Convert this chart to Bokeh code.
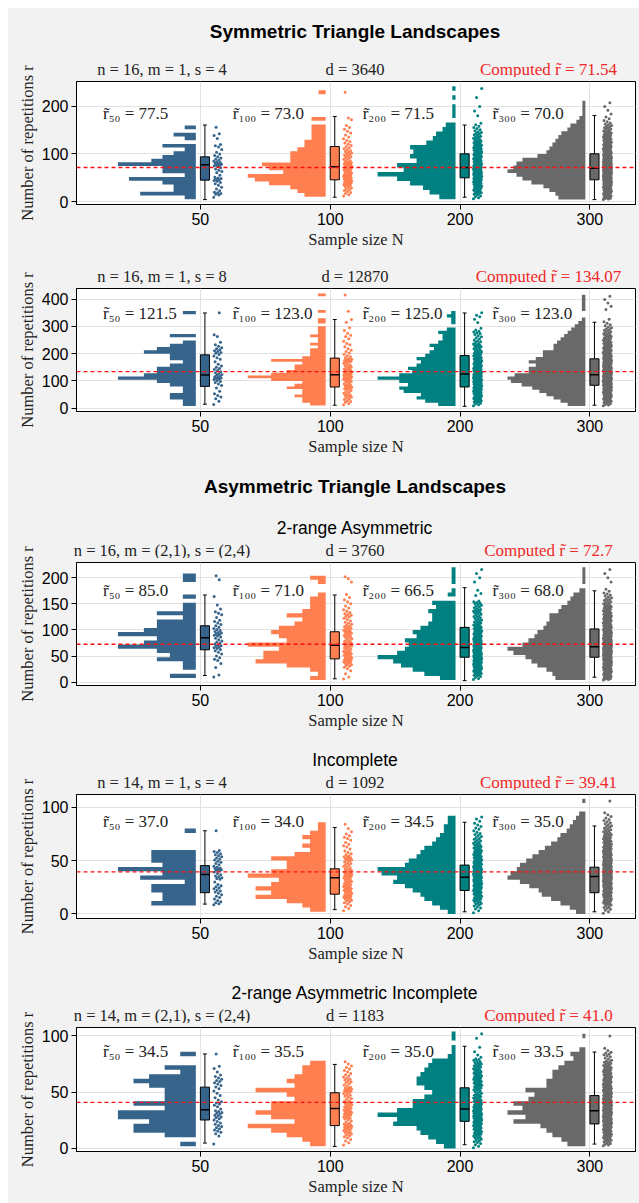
import math
from bokeh.plotting import figure
from bokeh.models import Range1d, FixedTicker, Span, Label, Spacer
from bokeh.layouts import column, row
from bokeh.embed import file_html
from bokeh.resources import INLINE

# ---------------- data ----------------
SAMPLE_SIZES = [50, 100, 200, 300]
COLORS = ["#36648B", "#FF7F50", "#008080", "#696969"]
SECTION_TITLES = ["Symmetric Triangle Landscapes", None, "Asymmetric Triangle Landscapes", None, None]
SUBTITLES = [None, None, "2-range Asymmetric", "Incomplete", "2-range Asymmetric Incomplete"]
PARAMS = ["n = 16, m = 1, s = 4", "n = 16, m = 1, s = 8", "n = 16, m = (2,1), s = (2,4)",
          "n = 14, m = 1, s = 4", "n = 14, m = (2,1), s = (2,4)"]
D_VALUES = [3640, 12870, 3760, 1092, 1183]
COMPUTED = [71.54, 134.07, 72.7, 39.41, 41.0]

MEDIANS = [[77.5, 73.0, 71.5, 70.0], [121.5, 123.0, 125.0, 123.0], [85.0, 71.0, 66.5, 68.0],
           [37.0, 34.0, 34.5, 35.0], [34.5, 35.5, 35.0, 33.5]]
Q1 = [[45, 45.6, 49.9, 45.7], [80, 77.8, 77.8, 84], [62, 44.7, 47.8, 47.8],
      [19.9, 18.5, 22, 19.9], [25.3, 20.3, 24.1, 21.8]]
Q3 = [[94, 115.7, 100.4, 100.4], [195.6, 183.6, 193, 181], [108, 96.6, 105, 102],
      [45.3, 42.3, 45.8, 43.8], [54.5, 49.5, 53.9, 47]]
WHISK_LO = [[4, 9, 9, 4], [14.6, 11, 7, 11], [12.8, 6.5, 3, 9.6], [9.2, 4, 2, 2], [4.8, 1.8, 3.3, 3.9]]
WHISK_HI = [[161, 179, 161, 181], [349, 325, 349, 315], [167, 167, 181, 175],
            [78, 81, 86, 82.5], [84, 74.7, 90.8, 85.7]]

# histogram bins: start, width, counts (bottom -> top) per panel and sample size
HIST_START = [[5, 10, 5, 4], [8, 10, 8, 8], [8, 4, 4, 4], [8, 2, 0, 0], [2, 2, 0, 2]]
HIST_WIDTH = [[7.75, 8, 9.5, 8], [12, 10, 12, 12], [8, 8, 8, 8], [4, 4, 4, 4], [4, 4, 4, 4]]

P1_COUNTS_50 = [1, 5, 2, 2, 3, 6, 1, 3, 3, 7, 4, 3, 2, 1, 3, 0, 1, 2, 0, 1]
P1_COUNTS_100 = [3, 4, 5, 8, 10, 11, 6, 8, 9, 5, 5, 5, 4, 3, 3, 2, 2, 2, 2, 0, 2, 0, 0, 0, 0, 0, 0, 1]
P1_COUNTS_200 = [5, 8, 10, 14, 18, 24, 16, 18, 12, 14, 13, 14, 9, 7, 6, 4, 3, 0, 1, 1, 1, 0, 1, 0, 1]
P1_COUNTS_300 = [9, 10, 12, 14, 18, 21, 23, 26, 24, 23, 21, 16, 13, 12, 11, 10, 9, 8, 6, 5, 3, 2, 1, 1, 1, 1]

P2_COUNTS_50 = [1, 1, 2, 2, 1, 1, 2, 3, 6, 4, 3, 3, 2, 1, 2, 2, 4, 3, 2, 1, 0, 2, 0, 0, 0, 0, 0, 0, 1]
P2_COUNTS_100 = [2, 3, 3, 4, 3, 3, 5, 4, 3, 7, 10, 7, 5, 4, 4, 3, 7, 3, 2, 2, 2, 1, 2, 1, 1, 2, 1, 1, 1, 0,
                 1, 1, 0, 0, 1, 0, 0, 0, 0, 0, 1]
P2_COUNTS_200 = [4, 7, 9, 8, 12, 13, 11, 13, 18, 13, 10, 11, 9, 8, 9, 7, 6, 5, 6, 4, 3, 3, 4, 2, 0, 1, 1, 2, 1]
P2_COUNTS_300 = [5, 7, 9, 11, 13, 15, 18, 21, 22, 20, 16, 16, 14, 16, 14, 12, 12, 9, 9, 8, 7, 6, 5, 4, 3, 2,
                 1, 0, 0, 1, 1, 1, 1, 1]

P3_COUNTS_50 = [2, 0, 1, 1, 3, 2, 3, 6, 4, 3, 6, 4, 3, 3, 1, 3, 1, 1, 0, 1, 0, 0, 0, 1, 1]
P3_COUNTS_100 = [2, 1, 2, 5, 9, 8, 8, 6, 10, 5, 6, 7, 6, 4, 3, 5, 3, 2, 2, 2, 1, 0, 0, 1, 2]
P3_COUNTS_200 = [4, 8, 11, 14, 16, 20, 15, 13, 12, 13, 10, 11, 9, 7, 6, 6, 7, 5, 6, 0, 2, 1, 0, 1, 1, 1, 1]
P3_COUNTS_300 = [10, 11, 13, 16, 18, 20, 24, 26, 21, 19, 17, 16, 14, 13, 12, 12, 9, 8, 6, 5, 4, 2, 0, 1, 1, 1, 1]

P4_COUNTS_50 = [4, 3, 3, 4, 4, 1, 5, 3, 7, 3, 4, 4, 4, 0, 0, 0, 0, 1]
P4_COUNTS_100 = [2, 3, 5, 9, 7, 9, 7, 6, 10, 7, 5, 5, 7, 4, 2, 3, 2, 3, 2, 1, 1]
P4_COUNTS_200 = [2, 4, 6, 8, 9, 11, 13, 16, 15, 19, 20, 13, 12, 10, 9, 8, 6, 5, 4, 3, 3, 2, 2]
P4_COUNTS_300 = [3, 5, 8, 11, 14, 15, 18, 21, 25, 24, 22, 21, 19, 17, 15, 13, 11, 9, 8, 6, 5, 4, 3, 2, 0, 0, 1]

P5_COUNTS_50 = [1, 0, 2, 4, 4, 3, 5, 5, 2, 4, 2, 2, 2, 3, 4, 3, 1, 2, 0, 0, 1]
P5_COUNTS_100 = [2, 3, 5, 7, 10, 4, 7, 9, 7, 7, 4, 5, 9, 4, 5, 4, 3, 3, 2]
P5_COUNTS_200 = [3, 5, 7, 9, 10, 16, 15, 20, 15, 11, 11, 8, 6, 8, 10, 10, 9, 8, 7, 6, 2, 1, 1, 0, 1, 1]
P5_COUNTS_300 = [6, 8, 11, 13, 15, 24, 20, 26, 21, 24, 19, 17, 20, 13, 13, 11, 11, 9, 7, 4, 5, 2, 0, 0, 1, 0]

HIST_COUNTS = [
    [P1_COUNTS_50, P1_COUNTS_100, P1_COUNTS_200, P1_COUNTS_300],
    [P2_COUNTS_50, P2_COUNTS_100, P2_COUNTS_200, P2_COUNTS_300],
    [P3_COUNTS_50, P3_COUNTS_100, P3_COUNTS_200, P3_COUNTS_300],
    [P4_COUNTS_50, P4_COUNTS_100, P4_COUNTS_200, P4_COUNTS_300],
    [P5_COUNTS_50, P5_COUNTS_100, P5_COUNTS_200, P5_COUNTS_300],
]
Y_TICKS = [[0, 100, 200], [0, 100, 200, 300, 400], [0, 50, 100, 150, 200], [0, 50, 100], [0, 50, 100]]
Y_LABEL = "Number of repetitions r"
X_LABEL = "Sample size N"

# ---------------- layout / style ----------------
BG = "#f2f2f2"
MARGIN = 8
LAB_W = 30                      # column holding the rotated y label
MAIN_W = 601
BORDER_L, BORDER_R = 36, 4
HEADER_H = [69, 32, 98, 54, 54]
PANEL_TOP = 4
FRAME_H = [123, 123, 123, 124, 124]
PANEL_BOTTOM = [48, 49, 51, 51, 52]
X_RANGE = (0.046, 4.351)
Y_RANGES = [(-6.3, 252.6), (-12, 438.7), (-6.3, 229.2), (-4.3, 112.0), (-2.7, 107.5)]
MED_LABEL_OFF = [31.7, 24.5, 28, 27, 23.5]   # px below frame top
SECTION_Y = [46, None, 72, None, None]       # px above header bottom
SUBTITLE_Y = 31
ANNOT_Y = 8.5
YLABEL_X = 19
CLOUD_W, CLOUD_GAP = 0.6, 0.035
BOX_W, CAP_W = 0.07, 0.03
DOT_C, DOT_HALF = 0.135, 0.032
SERIF = "Liberation Serif"
SANS = "Liberation Sans"
SUB = str.maketrans("0123456789", "\u2080\u2081\u2082\u2083\u2084\u2085\u2086\u2087\u2088\u2089")

ppx = (MAIN_W - BORDER_L - BORDER_R) / (X_RANGE[1] - X_RANGE[0])
HEAD_X = (X_RANGE[0] - BORDER_L / ppx, X_RANGE[1] + BORDER_R / ppx)
xspan = X_RANGE[1] - X_RANGE[0]
xmid = X_RANGE[0] + xspan / 2


def bare(w, h, xr, yr):
    f = figure(width=w, height=h, x_range=Range1d(*xr), y_range=Range1d(*yr),
               output_backend="svg", toolbar_location=None,
               x_axis_location=None, y_axis_location=None,
               min_border_left=0, min_border_right=0, min_border_top=0, min_border_bottom=0)
    f.frame_align = False
    f.grid.visible = False
    f.outline_line_color = None
    f.background_fill_color = BG
    f.border_fill_color = BG
    return f


main_children, label_children = [], []
for i in range(5):
    ylo, yhi = Y_RANGES[i]
    ppu = FRAME_H[i] / (yhi - ylo)

    # ---- header with the texts above the frame ----
    hh = HEADER_H[i]
    h = bare(MAIN_W, hh, HEAD_X, (0, hh))
    h.add_layout(Label(x=X_RANGE[0] + 0.156 * xspan, y=ANNOT_Y, text=PARAMS[i], text_align="center",
                       text_baseline="middle", text_font=SERIF, text_font_size="16.5px", text_color="#222222"))
    h.add_layout(Label(x=xmid, y=ANNOT_Y, text=f"d = {D_VALUES[i]}", text_align="center",
                       text_baseline="middle", text_font=SERIF, text_font_size="16.5px", text_color="#222222"))
    h.add_layout(Label(x=X_RANGE[0] + 0.845 * xspan, y=ANNOT_Y, text=f"Computed r\u0303 = {COMPUTED[i]}",
                       text_align="center", text_baseline="middle", text_font=SERIF,
                       text_font_size="17px", text_color="#f02828"))
    if SUBTITLES[i]:
        h.add_layout(Label(x=xmid, y=SUBTITLE_Y, text=SUBTITLES[i], text_align="center",
                           text_baseline="middle", text_font=SANS, text_font_size="17.5px",
                           text_color="black"))
    if SECTION_TITLES[i]:
        h.add_layout(Label(x=xmid, y=SECTION_Y[i], text=SECTION_TITLES[i], text_align="center",
                           text_baseline="middle", text_font=SANS, text_font_size="19px",
                           text_font_style="bold", text_color="black"))

    # ---- the panel ----
    ph = PANEL_TOP + FRAME_H[i] + PANEL_BOTTOM[i]
    p = figure(width=MAIN_W, height=ph, x_range=Range1d(*X_RANGE), y_range=Range1d(ylo, yhi),
               output_backend="svg", toolbar_location=None,
               min_border_left=BORDER_L, min_border_right=BORDER_R,
               min_border_top=PANEL_TOP, min_border_bottom=PANEL_BOTTOM[i])
    p.background_fill_color = "white"
    p.border_fill_color = BG
    p.outline_line_color = "black"
    p.outline_line_width = 1
    p.outline_line_alpha = 1

    for g in range(4):
        pos = g + 1
        col = COLORS[g]
        counts = HIST_COUNTS[i][g]
        start, w = HIST_START[i][g], HIST_WIDTH[i][g]
        cmax = max(counts)
        base = pos - CLOUD_GAP
        px_, py_ = [base], [start]
        ys = []
        for k, c in enumerate(counts):
            b = start + k * w
            xl = base - c / cmax * CLOUD_W
            px_ += [xl, xl]
            py_ += [b, b + w]
            for j in range(c):
                ys.append(b + (j + 0.5) / c * w)
        px_.append(base)
        py_.append(start + len(counts) * w)
        p.patch(px_, py_, fill_color=col, line_color=None)
        xs = [pos + DOT_C + DOT_HALF * (2 * ((idx * 0.6180339887) % 1.0) - 1) for idx in range(len(ys))]
        p.scatter(xs, ys, size=3.0, fill_color=col, line_color=None)

        xc = pos + BOX_W / 2
        p.segment(x0=[xc, xc], y0=[WHISK_LO[i][g], Q3[i][g]], x1=[xc, xc], y1=[Q1[i][g], WHISK_HI[i][g]],
                  line_color="black", line_width=1)
        p.segment(x0=[xc - CAP_W / 2] * 2, x1=[xc + CAP_W / 2] * 2,
                  y0=[WHISK_LO[i][g], WHISK_HI[i][g]], y1=[WHISK_LO[i][g], WHISK_HI[i][g]],
                  line_color="black", line_width=1)
        p.quad(left=[pos], right=[pos + BOX_W], bottom=[Q1[i][g]], top=[Q3[i][g]],
               fill_color=col, line_color="black", line_width=1)
        p.segment(x0=[pos], x1=[pos + BOX_W], y0=[MEDIANS[i][g]], y1=[MEDIANS[i][g]],
                  line_color="black", line_width=1.5)

        sub = str(SAMPLE_SIZES[g]).translate(SUB)
        p.add_layout(Label(x=pos - 0.75, y=yhi - MED_LABEL_OFF[i] / ppu,
                           text=f"r\u0303{sub} = {MEDIANS[i][g]:.1f}", text_align="left",
                           text_baseline="middle", text_font=SERIF, text_font_size="17px",
                           text_color="#222222"))

    p.add_layout(Span(location=COMPUTED[i], dimension="width", line_color="#ff1010",
                      line_dash="4 3", line_width=1.4, line_alpha=1.0, level="overlay"))

    p.xaxis.ticker = FixedTicker(ticks=[1, 2, 3, 4])
    p.xaxis.major_label_overrides = {k + 1: str(v) for k, v in enumerate(SAMPLE_SIZES)}
    p.yaxis.ticker = FixedTicker(ticks=Y_TICKS[i])
    p.xaxis.axis_label = X_LABEL
    for ax in (p.xaxis[0], p.yaxis[0]):
        ax.axis_line_color = "black"
        ax.major_tick_line_color = "black"
        ax.major_tick_in = 0
        ax.major_tick_out = 5
        ax.minor_tick_line_color = None
        ax.major_label_text_font = SANS
        ax.major_label_text_font_size = "16px"
        ax.major_label_text_color = "black"
        ax.axis_label_text_font = SERIF
        ax.axis_label_text_font_size = "16.5px"
        ax.axis_label_text_font_style = "normal"
        ax.axis_label_text_color = "#222222"
        ax.major_label_standoff = 3
        ax.axis_label_standoff = 2
    p.grid.grid_line_color = "#e2e2e2"
    p.grid.grid_line_width = 1

    main_children += [h, p]

    # ---- rotated y-axis label column ----
    band = hh + ph
    lab = bare(LAB_W, band, (0, LAB_W), (0, band))
    lab.add_layout(Label(x=YLABEL_X, y=PANEL_BOTTOM[i] + FRAME_H[i] / 2, text=Y_LABEL, angle=math.pi / 2,
                         text_align="center", text_baseline="middle", text_font=SERIF,
                         text_font_size="16.5px", text_color="#222222"))
    label_children.append(lab)

content = row(column(*label_children, spacing=0, background=BG),
              column(*main_children, spacing=0, background=BG), spacing=0, background=BG)
page = column(Spacer(width=LAB_W + MAIN_W + MARGIN, height=MARGIN),
              row(Spacer(width=MARGIN, height=1195), content, spacing=0), spacing=0)
open("out.html", "w").write(file_html(page, INLINE))
